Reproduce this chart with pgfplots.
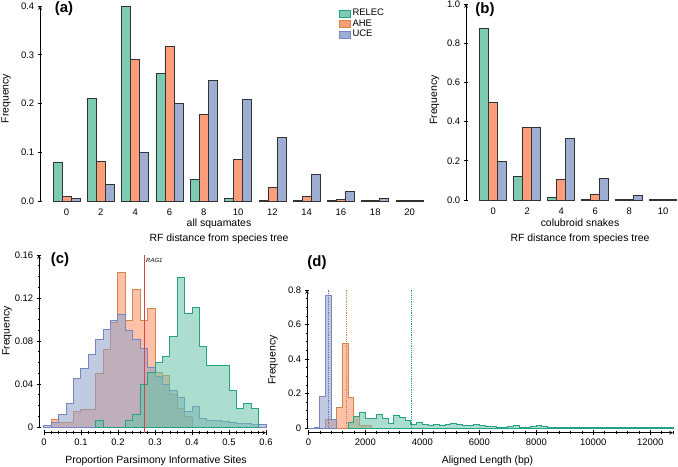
\documentclass[border=0pt]{standalone}
\usepackage{pgfplots}
\pgfplotsset{compat=1.18}
\usepackage{fontspec}
\setmainfont{Liberation Sans}

\definecolor{relec}{HTML}{66C2A5}
\definecolor{ahe}{HTML}{FC8D62}
\definecolor{uce}{HTML}{8DA0CB}
\definecolor{relecln}{HTML}{23A383}
\definecolor{aheln}{HTML}{D3854A}
\definecolor{uceln}{HTML}{7785C2}
\definecolor{ragred}{HTML}{D8434C}

\pgfplotsset{
  base/.style={scale only axis, anchor=south west, clip=false,
    axis line style={-, line width=0.7bp, black},
    tick align=outside, major tick length=4.5bp, minor tick length=2.5bp,
    every tick/.style={black, line width=0.6bp},
    tick label style={font=\fontsize{9.5}{11}\selectfont},
    /pgf/number format/assume math mode=true, scaled ticks=false,
    axis x line=bottom, axis y line=left},
  bars/.style={base, ybar=0pt, bar width=9bp, ymin=0,
    x axis line style={draw=none}, xtick style={draw=none},
    yticklabel style={/pgf/number format/fixed, /pgf/number format/precision=1,
      /pgf/number format/fixed zerofill}},
  hist/.style={base, xticklabel style={/pgf/number format/fixed, /pgf/number format/1000 sep={}},
    yticklabel style={/pgf/number format/fixed, /pgf/number format/precision=2}},
  bar/.style={fill=#1!85!white, draw=black!80, line width=0.7bp},
  hst/.style={const plot, fill=#1, fill opacity=0.55, draw=#1ln, line width=1bp},
}
\newcommand{\lab}{\fontsize{10.5}{12}\selectfont}

\begin{document}
\begin{tikzpicture}
\path[use as bounding box] (0,0) rectangle (678bp,467bp);

% (a) all squamates
\begin{axis}[bars, at={(40bp,266bp)}, width=386.7bp, height=195bp,
  xmin=-1.55, xmax=21, ymax=0.4, xtick={0,2,...,20}, ytick={0,0.1,0.2,0.3,0.4},
  legend image code/.code={\draw[#1] (0bp,-3.5bp) rectangle (11bp,3.5bp);},
  legend style={at={(rel axis cs:0.773,0.995)}, anchor=north west, draw=none, fill=none,
    font=\fontsize{9.5}{11}\selectfont, row sep=-1.5bp, inner sep=0pt},
  legend cell align=left, legend entries={RELEC,AHE,UCE}]
\addlegendimage{fill=relec!85!white, draw=relecln}
\addlegendimage{fill=ahe!85!white, draw=aheln}
\addlegendimage{fill=uce!85!white, draw=uceln}
\addplot[bar=relec] coordinates {(0,0.079) (2,0.211) (4,0.399) (6,0.262) (8,0.045) (10,0.005) (12,0.0005) (14,0.001) (16,0.0005) (18,0.0005) (20,0.0005)};
\addplot[bar=ahe] coordinates {(0,0.009) (2,0.081) (4,0.291) (6,0.317) (8,0.178) (10,0.085) (12,0.028) (14,0.010) (16,0.004) (18,0.001) (20,0.001)};
\addplot[bar=uce] coordinates {(0,0.005) (2,0.034) (4,0.099) (6,0.200) (8,0.248) (10,0.208) (12,0.131) (14,0.055) (16,0.019) (18,0.006) (20,0.002)};
\end{axis}

% (b) colubroid snakes
\begin{axis}[bars, at={(466bp,267bp)}, width=212.5bp, height=196bp,
  xmin=-1.6, xmax=10.9, ymax=1, xtick={0,2,...,10}, ytick={0,0.2,0.4,0.6,0.8,1}]
\addplot[bar=relec] coordinates {(0,0.876) (2,0.119) (4,0.012) (6,0.002) (8,0.001) (10,0.001)};
\addplot[bar=ahe] coordinates {(0,0.498) (2,0.371) (4,0.105) (6,0.029) (8,0.003) (10,0.001)};
\addplot[bar=uce] coordinates {(0,0.196) (2,0.369) (4,0.313) (6,0.109) (8,0.022) (10,0.002)};
\end{axis}

% (c) proportion of parsimony informative sites
\begin{axis}[hist, at={(39bp,34.3bp)}, width=227bp, height=177.7bp,
  xmin=-0.0135, xmax=0.6, ymin=-0.0053, ymax=0.16,
  xtick={0,0.1,0.2,0.3,0.4,0.5,0.6},
  minor xtick={0.02,0.04,0.06,0.08,0.12,0.14,0.16,0.18,0.22,0.24,0.26,0.28,0.32,0.34,0.36,0.38,0.42,0.44,0.46,0.48,0.52,0.54,0.56,0.58},
  ytick={0,0.04,0.08,0.12,0.16},
  minor ytick={0.01,0.02,0.03,0.05,0.06,0.07,0.09,0.10,0.11,0.13,0.14,0.15},
  x axis line style={shorten <=5bp}, y axis line style={shorten <=5.7bp}]
\addplot[hst=ahe] coordinates {(0,0) (0.02,0.007) (0.04,0.004) (0.06,0.004) (0.08,0.014) (0.10,0.016) (0.12,0.016) (0.14,0.050) (0.16,0.072) (0.18,0.097) (0.20,0.144) (0.22,0.099) (0.24,0.128) (0.26,0.099) (0.28,0.110) (0.30,0.051) (0.32,0.048) (0.34,0.030) (0.36,0.017) (0.38,0.010) (0.40,0.010)} \closedcycle;
\addplot[hst=uce] coordinates {(0,0.001) (0.02,0.004) (0.04,0.012) (0.06,0.022) (0.08,0.045) (0.10,0.054) (0.12,0.067) (0.14,0.081) (0.16,0.091) (0.18,0.099) (0.20,0.105) (0.22,0.090) (0.24,0.081) (0.26,0.073) (0.28,0.055) (0.30,0.047) (0.32,0.040) (0.34,0.034) (0.36,0.027) (0.38,0.014) (0.40,0.019) (0.42,0.008) (0.44,0.006) (0.46,0.006) (0.48,0.005) (0.50,0.004) (0.52,0.003) (0.54,0.003) (0.56,0.002) (0.58,0.002) (0.60,0.002)} \closedcycle;
\addplot[hst=relec] coordinates {(0.14,0.006) (0.16,0) (0.18,0) (0.20,0) (0.22,0.006) (0.24,0.012) (0.26,0.040) (0.28,0.051) (0.30,0.060) (0.32,0.066) (0.34,0.084) (0.36,0.139) (0.38,0.106) (0.40,0.111) (0.42,0.075) (0.44,0.057) (0.46,0.057) (0.48,0.057) (0.50,0.034) (0.52,0.017) (0.54,0.022) (0.56,0.017) (0.58,0.017)} \closedcycle;
\addplot[ragred, line width=1.1bp] coordinates {(0.271,-0.0053) (0.271,0.16)};
\node[font=\fontsize{6}{6}\selectfont\itshape, anchor=west, inner sep=1bp] at (axis cs:0.273,0.155) {RAG1};
\end{axis}

% (d) aligned length
\begin{axis}[hist, at={(307bp,34.3bp)}, width=366bp, height=142.7bp,
  xmin=-50, xmax=12800, ymin=-0.027, ymax=0.8,
  xtick={0,2000,...,12000}, minor xtick={0,400,...,12800},
  ytick={0,0.2,0.4,0.6,0.8}, minor ytick={0.05,0.1,...,0.75},
  x axis line style={shorten <=1.4bp}, y axis line style={shorten <=4.7bp}]
\addplot[hst=ahe] coordinates {(600,0.050) (800,0.050) (1000,0.118) (1200,0.490) (1400,0.178) (1600,0.066) (1800,0.017) (2000,0.017) (2200,0.017)} \closedcycle;
\addplot[hst=uce] coordinates {(0,0) (200,0.004) (400,0.184) (600,0.770) (800,0.047) (1000,0.047)} \closedcycle;
\addplot[hst=relec] coordinates {(1400,0.031) (1600,0.066) (1800,0.090) (2000,0.056) (2200,0.056) (2400,0.078) (2600,0.056) (2800,0.027) (3000,0.070) (3200,0.060) (3400,0.046) (3600,0.021) (3800,0.035) (4000,0.021) (4200,0.012) (4400,0.021) (4600,0.014) (4800,0.021) (5000,0.025) (5200,0.021) (5400,0.012) (5600,0.012) (5800,0.021) (6000,0.015) (6200,0.008) (6400,0.008) (6600,0.004) (6800,0.004) (7000,0.008) (7200,0.017) (7400,0.006) (7600,0.004) (7800,0.008) (8000,0.015) (8200,0.008) (8400,0.002) (8600,0.002) (8800,0.006) (9000,0.002) (9200,0.002) (9400,0.001) (9600,0.002) (9800,0.002) (10000,0.005) (10200,0.001) (10400,0.001) (10600,0.002) (10800,0.001) (11000,0.005) (11200,0.001) (11400,0.001) (11600,0.001) (11800,0.001) (12000,0.001) (12200,0.001) (12400,0.001) (12600,0.006) (12800,0.006)} \closedcycle;
\addplot[uceln!90!black, line width=0.8bp, dash pattern=on 1.2bp off 1bp] coordinates {(712,0) (712,0.8)};
\addplot[aheln, line width=0.8bp, dash pattern=on 1.2bp off 1bp] coordinates {(1322,0) (1322,0.8)};
\addplot[relecln, line width=0.8bp, dash pattern=on 1.2bp off 1bp] coordinates {(3614,0) (3614,0.8)};
\end{axis}

% panel letters and axis titles
\node[font=\bfseries\fontsize{15}{15}\selectfont] at (64bp,458bp) {(a)};
\node[font=\bfseries\fontsize{15}{15}\selectfont] at (485bp,457bp) {(b)};
\node[font=\bfseries\fontsize{15}{15}\selectfont] at (60bp,207bp) {(c)};
\node[font=\bfseries\fontsize{15}{15}\selectfont] at (317bp,204bp) {(d)};
\node[font=\lab, rotate=90] at (6bp,368.5bp) {Frequency};
\node[font=\lab, rotate=90] at (434.5bp,367bp) {Frequency};
\node[font=\lab, rotate=90] at (7bp,136bp) {Frequency};
\node[font=\lab, rotate=90] at (273bp,107bp) {Frequency};
\node[font=\lab, anchor=base] at (219bp,240.5bp) {all squamates};
\node[font=\lab, anchor=base] at (219bp,225bp) {RF distance from species tree};
\node[font=\lab, anchor=base] at (580bp,240.5bp) {colubroid snakes};
\node[font=\lab, anchor=base] at (580bp,225bp) {RF distance from species tree};
\node[font=\lab, anchor=base] at (156bp,4bp) {Proportion Parsimony Informative Sites};
\node[font=\lab, anchor=base] at (487.5bp,3.5bp) {Aligned Length (bp)};
\end{tikzpicture}
\end{document}
